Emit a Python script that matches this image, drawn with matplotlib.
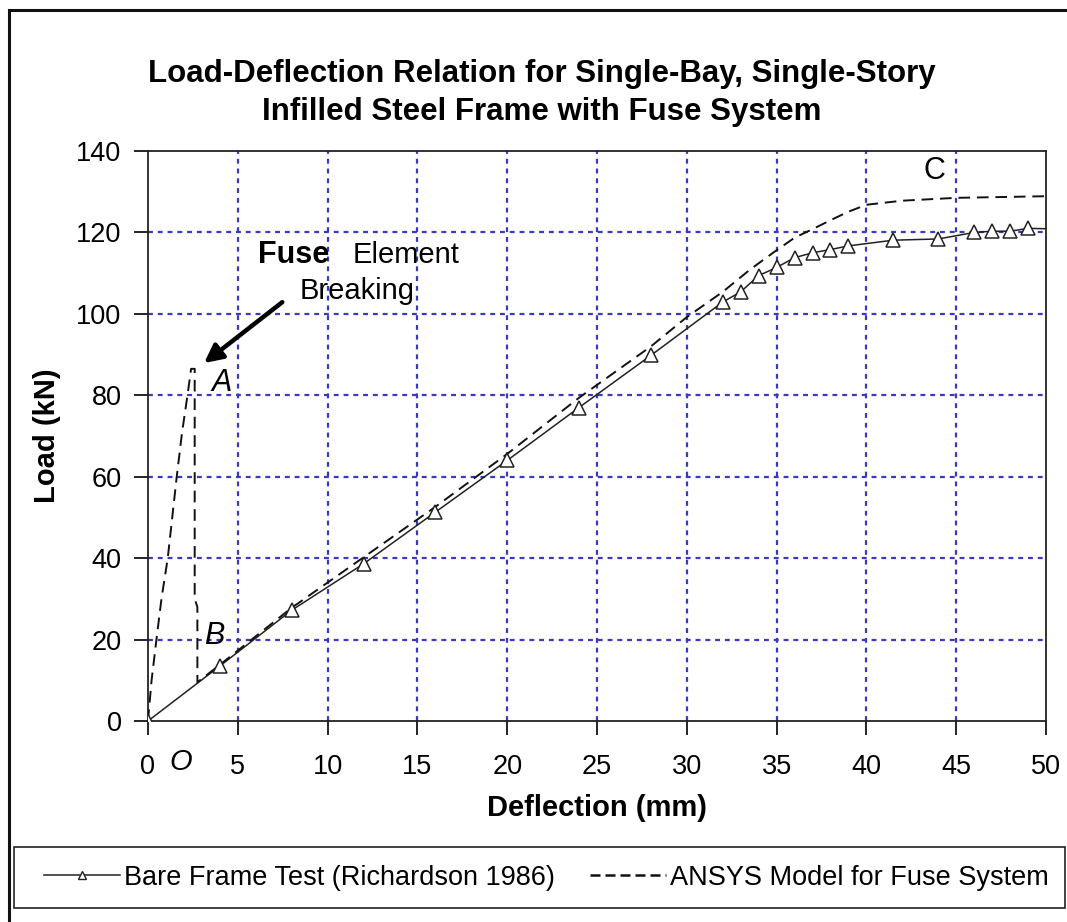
import matplotlib
matplotlib.use('Agg')
import matplotlib.pyplot as plt
from matplotlib.lines import Line2D
from matplotlib.patches import Rectangle

plt.rcParams['font.family'] = ['Liberation Sans', 'DejaVu Sans']

# Bare frame test (Richardson 1986), marker points
bare_x = [0, 4, 8, 12, 16, 20, 24, 28, 32, 33, 34, 35, 36, 37, 38, 39,
          41.5, 44, 46, 47, 48, 49, 50.2]
bare_y = [0, 13.5, 27.2, 38.6, 51.3, 64.0, 77.0, 89.8, 102.9, 105.4, 109.4,
          111.4, 113.8, 115.0, 115.8, 116.7, 118.1, 118.4, 120.0, 120.3,
          120.3, 121.0, 120.9]
bare_marker_n = 22   # last point is just the line end

# ANSYS model for fuse system
fuse_x = [0, 0.1, 0.2, 0.47, 0.75, 1.1, 1.35, 1.6, 1.9, 2.2, 2.4, 2.6,
          2.6, 2.75, 2.75, 4, 8, 12, 16, 20, 24, 28, 30, 32, 33.5, 34.8,
          36, 37, 38, 39, 40, 42, 45, 50]
fuse_y = [0, 5, 10, 20, 30, 40, 50, 60, 71, 80, 86.5, 86.5,
          30, 28, 9.5, 13.8, 27.8, 40.2, 52.6, 65.6, 79.4, 92.0, 99.2,
          105.4, 110.8, 115.0, 118.7, 120.8, 123.0, 125.1, 126.8, 127.8,
          128.5, 128.9]

x_ticks = [0, 5, 10, 15, 20, 25, 30, 35, 40, 45, 50]
y_ticks = [0, 20, 40, 60, 80, 100, 120, 140]

title = ('Load-Deflection Relation for Single-Bay, Single-Story\n'
         'Infilled Steel Frame with Fuse System')
grid_col = '#3a3ac0'

fig = plt.figure(figsize=(10.67, 9.22), dpi=100)
ax = fig.add_axes([0.1387, 0.218, 0.8416, 0.6182])

# grid drawn by hand so the spines stay clean
for gx in x_ticks[1:-1]:
    ax.axvline(gx, color=grid_col, lw=1.6, ls=(0, (2.2, 2.2)), zorder=0)
for gy in y_ticks[1:-1]:
    ax.axhline(gy, color=grid_col, lw=1.6, ls=(0, (2.2, 2.2)), zorder=0)

ax.plot(bare_x, bare_y, '-', color='#222222', lw=1.1, zorder=3)
ax.plot(bare_x[:bare_marker_n], bare_y[:bare_marker_n], '^', ms=10,
        mfc='white', mec='#222222', mew=1.1, zorder=4)
ax.plot(fuse_x, fuse_y, color='#111111', lw=1.4, ls=(0, (6, 3.5)), zorder=3)

ax.set_xlim(0, 50)
ax.set_ylim(0, 140)
ax.set_xticks(x_ticks)
ax.set_yticks(y_ticks)
ax.tick_params(direction='out', length=10, width=1.2, labelsize=19.5)
ax.tick_params(axis='x', pad=14)
ax.tick_params(axis='y', pad=9)
for s in ax.spines.values():
    s.set_linewidth(1.3)
    s.set_color('#222222')

ax.set_xlabel('Deflection (mm)', fontsize=21, fontweight='bold', labelpad=10)
ax.set_ylabel('Load (kN)', fontsize=21, fontweight='bold', labelpad=11)

fig.text(0.508, 0.899, title, ha='center', va='center', fontsize=22.5,
         fontweight='bold', linespacing=1.35)

# annotations
ax.text(6.1, 114.5, 'Fuse', fontsize=22, fontweight='bold', va='center')
ax.text(11.4, 114.5, 'Element', fontsize=21, va='center')
ax.text(8.45, 105.6, 'Breaking', fontsize=21, va='center')
ax.annotate('', xy=(3.0, 87.5), xytext=(7.6, 103.3),
            arrowprops=dict(arrowstyle='-|>,head_length=1.1,head_width=0.55',
                            color='black', lw=3.2))
ax.text(4.1, 83.0, 'A', fontsize=22, style='italic', ha='center', va='center')
ax.text(3.7, 20.8, 'B', fontsize=22, style='italic', ha='center', va='center')
ax.text(43.8, 135.2, 'C', fontsize=22, ha='center', va='center')
ax.text(1.85, -10.0, 'O', fontsize=21, style='italic', ha='center',
        va='center', clip_on=False)

handles = [
    Line2D([], [], color='#222222', lw=1.1, marker='^', ms=6, mfc='white',
           mec='#222222'),
    Line2D([], [], color='#111111', lw=1.8, ls=(0, (4, 2))),
]
labels = ['Bare Frame Test (Richardson 1986)', 'ANSYS Model for Fuse System']
leg = fig.legend(handles, labels, loc='center', ncol=2, mode='expand',
                 bbox_to_anchor=(0.026, 0.0152, 0.972, 0.066),
                 frameon=False, prop={'size': 19.5}, handlelength=2.8,
                 handletextpad=0.15, borderpad=0.6, borderaxespad=0)
# legend box drawn separately so the entries can sit a bit further in
fig.add_artist(Rectangle((0.0131, 0.0152), 0.985, 0.066, fill=False,
                         edgecolor='#222222', lw=1.2,
                         transform=fig.transFigure))

# outer chart frame (left and top edges are visible)
fig.add_artist(Line2D([0.0084, 0.0084], [0, 0.989], color='#111111', lw=2.2,
                      transform=fig.transFigure))
fig.add_artist(Line2D([0.0084, 1.0], [0.989, 0.989], color='#111111', lw=2.2,
                      transform=fig.transFigure))

fig.savefig('out.png', dpi=100, facecolor='white')
